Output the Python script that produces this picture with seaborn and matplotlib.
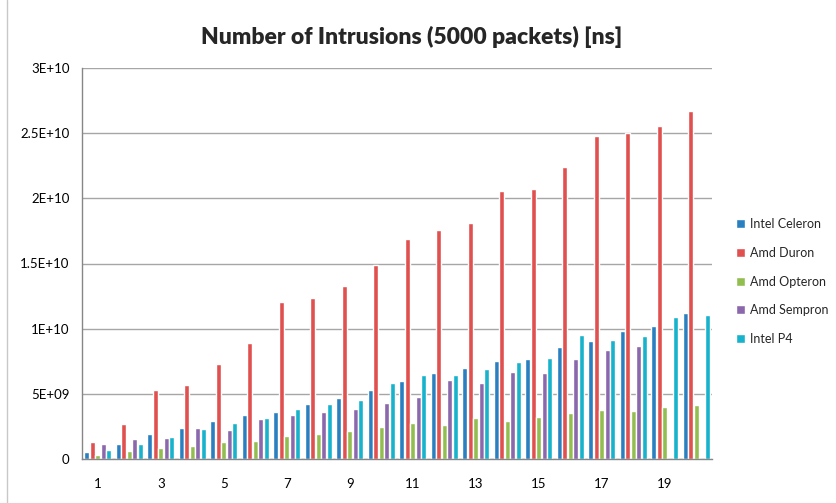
import matplotlib
matplotlib.use("Agg")
import matplotlib.pyplot as plt
import seaborn as sns
import pandas as pd
import numpy as np
from matplotlib.lines import Line2D

groups = [str(i) for i in range(1, 21)]
series = ["Intel Celeron", "Amd Duron", "Amd Opteron", "Amd Sempron", "Intel P4"]

celeron = [0.54e9, 1.15e9, 1.90e9, 2.38e9, 2.89e9, 3.38e9, 3.61e9, 4.23e9, 4.68e9, 5.32e9,
           5.99e9, 6.60e9, 6.98e9, 7.49e9, 7.70e9, 8.60e9, 9.03e9, 9.85e9, 10.23e9, 11.18e9]
duron = [1.30e9, 2.70e9, 5.27e9, 5.68e9, 7.27e9, 8.90e9, 12.05e9, 12.33e9, 13.30e9, 14.90e9,
         16.86e9, 17.60e9, 18.10e9, 20.55e9, 20.75e9, 22.39e9, 24.79e9, 25.00e9, 25.56e9, 26.68e9]
opteron = [0.33e9, 0.59e9, 0.82e9, 1.00e9, 1.28e9, 1.38e9, 1.74e9, 1.91e9, 2.12e9, 2.46e9,
           2.73e9, 2.61e9, 3.17e9, 2.92e9, 3.24e9, 3.56e9, 3.79e9, 3.71e9, 4.01e9, 4.12e9]
sempron = [1.13e9, 1.53e9, 1.64e9, 2.35e9, 2.23e9, 3.07e9, 3.35e9, 3.58e9, 3.86e9, 4.30e9,
           4.78e9, 6.06e9, 5.86e9, 6.65e9, 6.59e9, 7.65e9, 8.34e9, 8.67e9, 0.0, 0.0]
p4 = [0.69e9, 1.13e9, 1.71e9, 2.28e9, 2.74e9, 3.15e9, 3.84e9, 4.22e9, 4.53e9, 5.83e9,
      6.42e9, 6.47e9, 6.90e9, 7.44e9, 7.76e9, 9.52e9, 9.13e9, 9.44e9, 10.90e9, 11.03e9]

yticks = [0, 5e9, 1e10, 1.5e10, 2e10, 2.5e10, 3e10]
ytick_labels = ["0", "5E+09", "1E+10", "1.5E+10", "2E+10", "2.5E+10", "3E+10"]
xtick_labels = ["1", "", "3", "", "5", "", "7", "", "9", "", "11", "", "13", "", "15", "", "17", "", "19", ""]

colors = ["#2A7FC0", "#E0504F", "#92BE50", "#8B67AB", "#17B2CB"]

values = [celeron, duron, opteron, sempron, p4]
rows = []
for s, vals in zip(series, values):
    for g, v in zip(groups, vals):
        rows.append({"group": g, "series": s, "value": v})
df = pd.DataFrame(rows)

sns.set_style("white")
plt.rcParams["font.family"] = ["Lato", "DejaVu Sans"]

fig = plt.figure(figsize=(8.36, 5.03), dpi=100)
ax = fig.add_axes([82/836, 44/503, 630/836, 391/503])

sns.barplot(data=df, x="group", y="value", hue="series", order=groups,
            hue_order=series, palette=colors, width=0.88, gap=0.12,
            saturation=1, ax=ax, legend=True)

ax.set_xlim(-0.5, 19.5)
ax.set_ylim(0, 3e10)
ax.set_yticks(yticks)
ax.set_yticklabels(ytick_labels)
ax.set_xticks(range(20))
ax.set_xticklabels(xtick_labels)
ax.set_xlabel("")
ax.set_ylabel("")
ax.tick_params(axis="both", length=0, labelsize=9.5, colors="#000000")
ax.tick_params(axis="x", pad=14)
ax.tick_params(axis="y", pad=9)
ax.yaxis.grid(True, color="#A6A6A6", linewidth=1.0)
ax.set_axisbelow(True)
for sp in ["top", "right"]:
    ax.spines[sp].set_visible(False)
for sp in ["left", "bottom"]:
    ax.spines[sp].set_color("#868686")
    ax.spines[sp].set_linewidth(1.0)

handles, labels = ax.get_legend_handles_labels()
ax.legend(handles, labels, loc="center left", bbox_to_anchor=(736/836, 1 - 281.5/503),
          bbox_transform=fig.transFigure, frameon=False, fontsize=9,
          borderaxespad=0, borderpad=0,
          handlelength=0.75, handleheight=0.75, handletextpad=0.35, labelspacing=1.33)

fig.text(412/836, 1 - 37/503, "Number of Intrusions (5000 packets) [ns]",
         ha="center", va="center", fontsize=16.5, fontweight="heavy")

fig.add_artist(Line2D([7/836, 7/836], [0, 1], transform=fig.transFigure,
                      color="#C8C8C8", linewidth=1.0))

fig.savefig("out.png", dpi=100)
